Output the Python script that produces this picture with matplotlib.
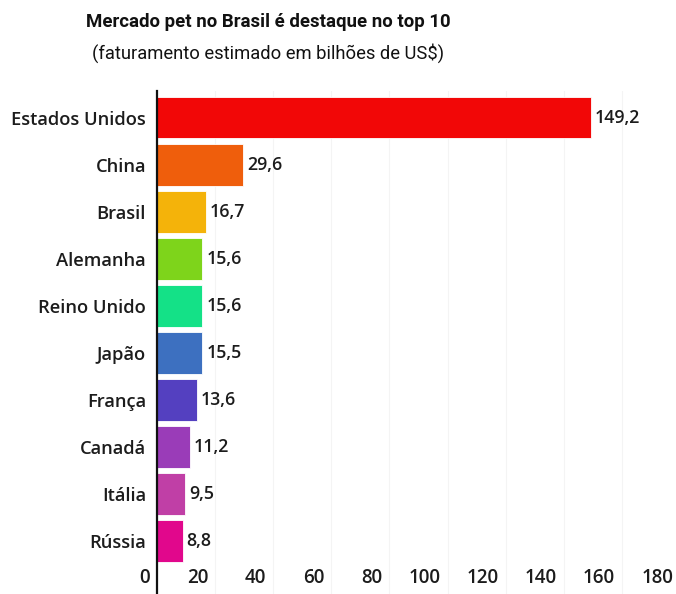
import matplotlib
matplotlib.use("Agg")
import matplotlib.pyplot as plt

# dados (bilhões de US$)
paises = ["Estados Unidos", "China", "Brasil", "Alemanha", "Reino Unido",
          "Japão", "França", "Canadá", "Itália", "Rússia"]
valores = [149.2, 29.6, 16.7, 15.6, 15.6, 15.5, 13.6, 11.2, 9.5, 8.8]
cores = ["#f20707", "#ef5e0c", "#f4b30a", "#7ed41b", "#14e187",
         "#3d70c0", "#5440c0", "#9a3cb8", "#c03fa6", "#e1078c"]
xticks = [0, 20, 40, 60, 80, 100, 120, 140, 160, 180]

W, H = 676, 594
fig = plt.figure(figsize=(W / 100, H / 100), dpi=100)
ax = fig.add_axes([157 / W, 0, (680 - 157) / W, 1 - 91 / H])

ypos = list(range(len(paises)))
ax.barh(ypos, valores, height=0.89, color=cores, edgecolor="white",
        linewidth=0.6, zorder=2)

ax.set_xlim(0, 180)
ax.set_ylim(10.12, -0.563)

for x in xticks[1:]:
    ax.axvline(x, color="#f4f4f4", lw=0.8, zorder=0)

for s in ["top", "right", "bottom"]:
    ax.spines[s].set_visible(False)
ax.spines["left"].set_linewidth(1.6)
ax.spines["left"].set_color("#111111")
ax.spines["left"].set_zorder(3)

ax.set_yticks(ypos)
ax.set_yticklabels(paises)
ax.tick_params(axis="y", length=0, pad=8, labelsize=13.2, labelcolor="#1c1c1c")
for lbl in ax.get_yticklabels():
    lbl.set_fontfamily("Open Sans")
    lbl.set_fontweight("semibold")

ax.set_xticks([])
for x in xticks:
    ax.annotate(str(x), (x, 0), xycoords=ax.get_xaxis_transform(),
                xytext=(-5, 4), textcoords="offset points",
                ha="right", va="bottom", fontsize=13.5, fontweight="semibold",
                family="Open Sans", color="#1c1c1c")

for y, v in zip(ypos, valores):
    ax.annotate(f"{v:.1f}".replace(".", ","), (v, y), xytext=(3, 0),
                textcoords="offset points", ha="left", va="center",
                fontsize=12.8, fontweight="semibold", family="Open Sans",
                color="#1c1c1c")

fig.text(268 / W, 1 - 22 / H, "Mercado pet no Brasil é destaque no top 10",
         ha="center", va="center", fontsize=13.4, fontweight="bold",
         family="Roboto", color="#111111")
fig.text(268 / W, 1 - 53 / H, "(faturamento estimado em bilhões de US$)",
         ha="center", va="center", fontsize=13.2, family="Roboto",
         color="#111111")

fig.savefig("out.png", dpi=100)
